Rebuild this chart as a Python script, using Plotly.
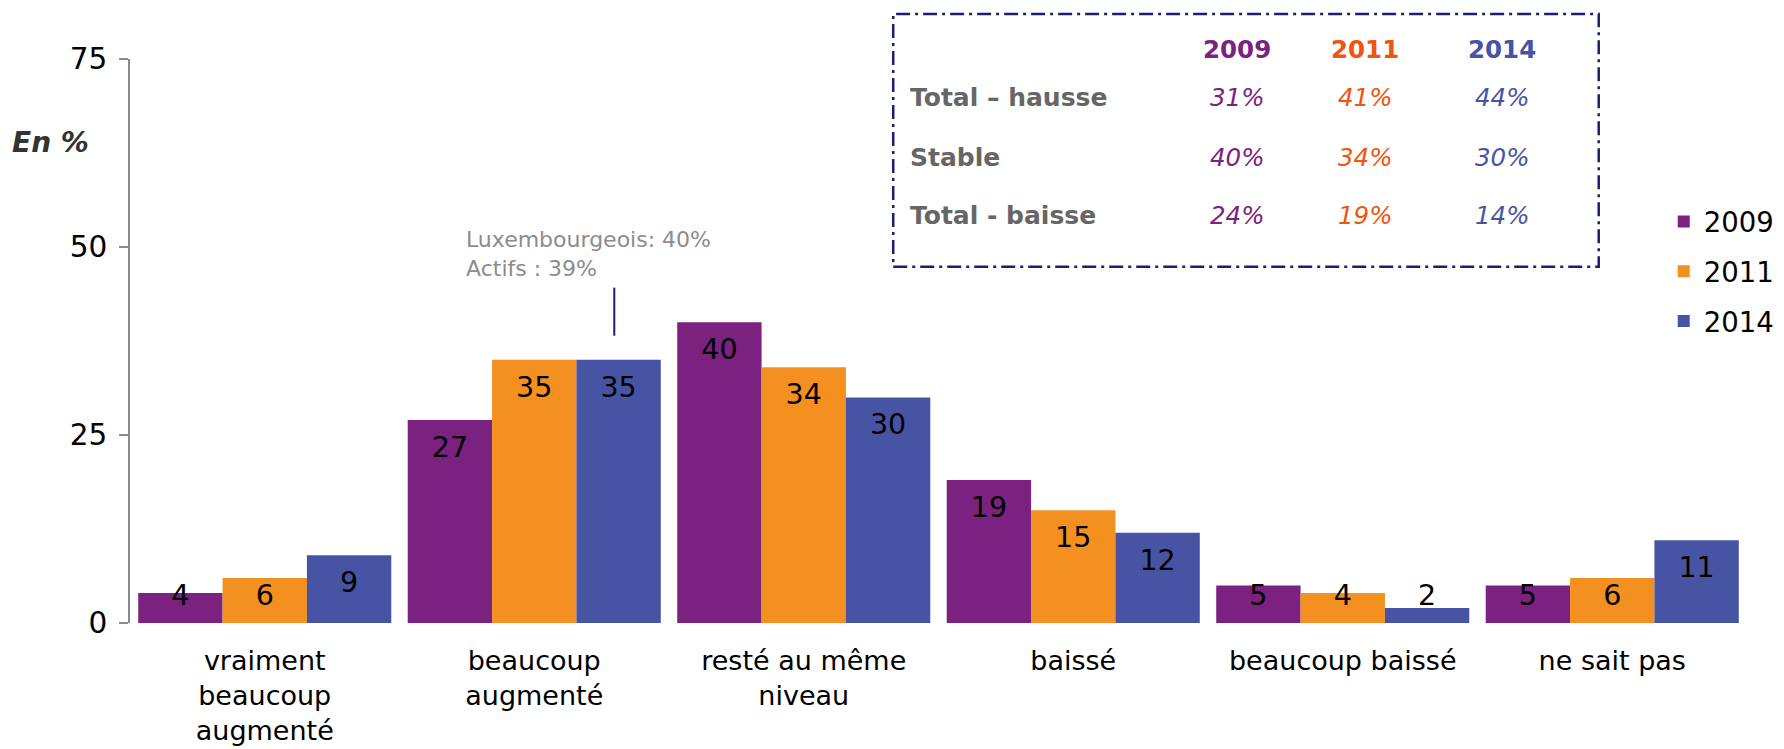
import plotly.graph_objects as go

categories = ["vraiment<br>beaucoup<br>augmenté", "beaucoup<br>augmenté", "resté au même<br>niveau",
              "baissé", "beaucoup baissé", "ne sait pas"]
years = ["2009", "2011", "2014"]
v2009 = [4, 27, 40, 19, 5, 5]
v2011 = [6, 35, 34, 15, 4, 6]
v2014 = [9, 35, 30, 12, 2, 11]
series = [v2009, v2011, v2014]
bar_colors = ["#7B217F", "#F39020", "#4754A4"]
table_colors = ["#7B217F", "#F0540E", "#4754A4"]

table_rows = ["Total – hausse", "Stable", "Total - baisse"]
t2009 = ["31%", "40%", "24%"]
t2011 = ["41%", "34%", "19%"]
t2014 = ["44%", "30%", "14%"]
table_cols = [t2009, t2011, t2014]

note_lines = ["Luxembourgeois: 40%", "Actifs : 39%"]

FONT = "DejaVu Sans"
fig = go.Figure()

for i, (yr, vals) in enumerate(zip(years, series)):
    fig.add_trace(go.Bar(
        x=categories, y=vals, name=yr, offsetgroup=yr, legendgroup=yr,
        marker=dict(color=bar_colors[i], line=dict(width=0)),
        hoverinfo="x+y+name",
    ))
for i, (yr, vals) in enumerate(zip(years, series)):
    fig.add_trace(go.Scatter(
        x=categories, y=[max(v - 3.95, 3.4) for v in vals], mode="text",
        text=[str(v) for v in vals], textposition="middle center",
        textfont=dict(family=FONT, size=28.5, color="#000000"),
        offsetgroup=yr, legendgroup=yr, showlegend=False, hoverinfo="skip",
    ))

anns = []
# Y-axis caption
anns.append(dict(text="<b><i>En %</i></b>", xref="paper", yref="paper", x=-0.0489, y=0.852,
                 xanchor="center", yanchor="middle", showarrow=False,
                 font=dict(family=FONT, size=28, color="#333333")))
# Note
anns.append(dict(text="<br>".join(note_lines), xref="x", yref="y", x=0.74, y=45.2,
                 xanchor="left", yanchor="bottom", align="left", showarrow=False,
                 font=dict(family=FONT, size=22, color="#8C8C8C")))

# Table
col_x = [0.6847, 0.7638, 0.8486]
row_y = [0.9312, 0.8249, 0.7221]
for j, yr in enumerate(years):
    anns.append(dict(text=f"<b>{yr}</b>", xref="paper", yref="paper", x=col_x[j], y=1.016,
                     xanchor="center", yanchor="middle", showarrow=False,
                     font=dict(family=FONT, size=24.5, color=table_colors[j])))
for r, lab in enumerate(table_rows):
    anns.append(dict(text=f"<b>{lab}</b>", xref="paper", yref="paper", x=0.4813, y=row_y[r],
                     xanchor="left", yanchor="middle", showarrow=False,
                     font=dict(family=FONT, size=25, color="#666666")))
    for j in range(3):
        anns.append(dict(text=f"<i>{table_cols[j][r]}</i>", xref="paper", yref="paper",
                         x=col_x[j], y=row_y[r], xanchor="center", yanchor="middle",
                         showarrow=False,
                         font=dict(family=FONT, size=24.5, color=table_colors[j])))

shapes = [
    dict(type="rect", xref="paper", yref="paper", x0=0.472, x1=0.9083, y0=0.6316, y1=1.080,
         line=dict(color="#1C1F6B", width=2.5, dash="14px,5px,3px,5px"), fillcolor="rgba(0,0,0,0)"),
    dict(type="line", xref="x", yref="y", x0=1.297, x1=1.297, y0=38.2, y1=44.6,
         line=dict(color="#1C1F6B", width=2)),
]

# The page body adds an 8px offset, so the figure is 16px smaller than the window
fig.update_layout(
    width=1776, height=741,
    margin=dict(l=122, r=37, t=51, b=126, autoexpand=False),
    paper_bgcolor="white", plot_bgcolor="white",
    barmode="group", bargap=0.061, bargroupgap=0,
    scattermode="group", scattergap=0.061,
    font=dict(family=FONT, size=29.5, color="#000000"),
    showlegend=True,
    legend=dict(x=0.9485, y=0.755, xanchor="left", yanchor="top",
                font=dict(family=FONT, size=27.5, color="#000000"),
                tracegroupgap=11, bgcolor="rgba(0,0,0,0)", traceorder="grouped"),
    xaxis=dict(showline=False, ticks="", showgrid=False, zeroline=False,
               ticklabelstandoff=19,
               tickfont=dict(family=FONT, size=27, color="#000000")),
    yaxis=dict(range=[0, 75], dtick=25, tick0=0, showgrid=False, zeroline=False,
               showline=True, linecolor="#898989", linewidth=1.5,
               ticks="outside", ticklen=9, tickcolor="#898989", tickwidth=1.5,
               ticklabelstandoff=6,
               tickfont=dict(family=FONT, size=29.5, color="#000000")),
    annotations=anns, shapes=shapes,
)

fig.write_html("out.html")
